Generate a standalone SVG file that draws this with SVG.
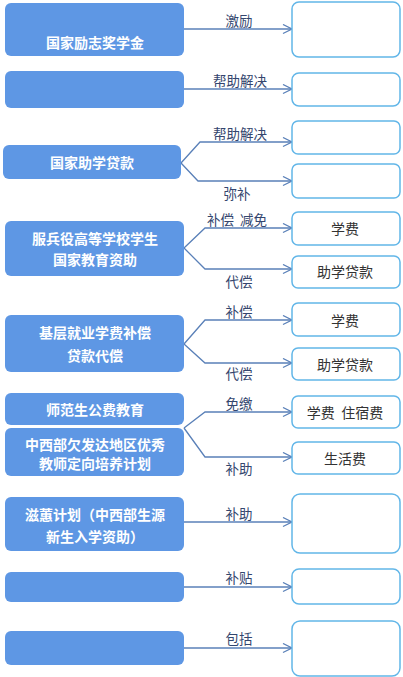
<svg xmlns="http://www.w3.org/2000/svg" width="403" height="677" viewBox="0 0 403 677">
<style>
.l{fill:#5e97e4}
.r{fill:#fff;stroke:#62b6e8;stroke-width:1.5}
.lt{font-family:"Noto Sans CJK SC",sans-serif;font-size:14px;font-weight:bold;fill:#fff;text-anchor:middle;dominant-baseline:central}
.rt{font-family:"Noto Sans CJK SC",sans-serif;font-size:14px;fill:#333;text-anchor:middle;dominant-baseline:central;white-space:pre}
.cl{font-family:"Noto Sans CJK SC",sans-serif;font-size:13.5px;fill:#34466e;text-anchor:middle;dominant-baseline:central;white-space:pre}
.c{fill:none;stroke:#5a80b8;stroke-width:1.3}
</style>
<defs>
<marker id="a" markerWidth="12" markerHeight="12" refX="10" refY="5" orient="auto" markerUnits="userSpaceOnUse">
<path d="M1,0.5 L10,5 L1,9.5" fill="none" stroke="#5a80b8" stroke-width="1.3"/>
</marker>
</defs>
<rect width="403" height="677" fill="#fff"/>
<g id="connectors">
<path class="c" marker-end="url(#a)" d="M184,29 H292"/>
<text class="cl" x="239" y="20">激励</text>
<path class="c" marker-end="url(#a)" d="M184,89 H292"/>
<text class="cl" x="240" y="80">帮助解决</text>
<path class="c" marker-end="url(#a)" d="M181,163 L200,142 H292"/>
<path class="c" marker-end="url(#a)" d="M181,163 L198,181 H292"/>
<text class="cl" x="240" y="133">帮助解决</text>
<text class="cl" x="237" y="193">弥补</text>
<path class="c" marker-end="url(#a)" d="M184,248 L205,228 H292"/>
<path class="c" marker-end="url(#a)" d="M184,248 L205,269 H292"/>
<text class="cl" x="237" y="219" xml:space="preserve">补偿  减免</text>
<text class="cl" x="239" y="281">代偿</text>
<path class="c" marker-end="url(#a)" d="M184,344 L205,320 H292"/>
<path class="c" marker-end="url(#a)" d="M184,344 L205,363 H292"/>
<text class="cl" x="239" y="311">补偿</text>
<text class="cl" x="239" y="373">代偿</text>
<path class="c" marker-end="url(#a)" d="M184,428 L205,412 H292"/>
<path class="c" marker-end="url(#a)" d="M184,428 L205,457 H292"/>
<text class="cl" x="239" y="403">免缴</text>
<text class="cl" x="239" y="468">补助</text>
<path class="c" marker-end="url(#a)" d="M184,522 H292"/>
<text class="cl" x="239" y="513">补助</text>
<path class="c" marker-end="url(#a)" d="M184,587 H292"/>
<text class="cl" x="239" y="577">补贴</text>
<path class="c" marker-end="url(#a)" d="M184,648 H292"/>
<text class="cl" x="239" y="638">包括</text>
</g>
<g id="n1"><rect class="l" x="5" y="3" width="179" height="53" rx="6"/><text class="lt" x="95" y="42">国家励志奖学金</text></g>
<g id="n2"><rect class="l" x="5" y="71" width="179" height="37" rx="6"/></g>
<g id="n3"><rect class="l" x="3" y="145" width="178" height="34" rx="6"/><text class="lt" x="92" y="162">国家助学贷款</text></g>
<g id="n4"><rect class="l" x="5" y="221" width="179" height="55" rx="6"/><text class="lt" x="95" y="238">服兵役高等学校学生</text><text class="lt" x="95" y="259">国家教育资助</text></g>
<g id="n5"><rect class="l" x="5" y="315" width="179" height="57" rx="6"/><text class="lt" x="95" y="332">基层就业学费补偿</text><text class="lt" x="95" y="355">贷款代偿</text></g>
<g id="n6"><rect class="l" x="5" y="393" width="179" height="32" rx="6"/><text class="lt" x="95" y="409">师范生公费教育</text></g>
<g id="n7"><rect class="l" x="5" y="428" width="179" height="48" rx="6"/><text class="lt" x="95" y="444">中西部欠发达地区优秀</text><text class="lt" x="95" y="463">教师定向培养计划</text></g>
<g id="n8"><rect class="l" x="5" y="497" width="179" height="54" rx="6"/><text class="lt" x="95" y="514">滋蕙计划（中西部生源</text><text class="lt" x="95" y="536">新生入学资助）</text></g>
<g id="n9"><rect class="l" x="5" y="572" width="179" height="30" rx="6"/></g>
<g id="n10"><rect class="l" x="5" y="631" width="179" height="34" rx="6"/></g>
<g id="r1"><rect class="r" x="292" y="2" width="108" height="55" rx="7"/></g>
<g id="r2"><rect class="r" x="292" y="73" width="108" height="33" rx="7"/></g>
<g id="r3"><rect class="r" x="292" y="121" width="108" height="33" rx="6"/></g>
<g id="r4"><rect class="r" x="292" y="164" width="108" height="34" rx="6"/></g>
<g id="r5"><rect class="r" x="292" y="212" width="108" height="33" rx="6"/><text class="rt" x="345" y="228">学费</text></g>
<g id="r6"><rect class="r" x="292" y="256" width="108" height="32" rx="6"/><text class="rt" x="345" y="271">助学贷款</text></g>
<g id="r7"><rect class="r" x="292" y="303" width="108" height="33" rx="6"/><text class="rt" x="345" y="320">学费</text></g>
<g id="r8"><rect class="r" x="292" y="348" width="108" height="32" rx="6"/><text class="rt" x="345" y="364">助学贷款</text></g>
<g id="r9"><rect class="r" x="292" y="396" width="108" height="32" rx="6"/><text class="rt" x="345" y="412" xml:space="preserve">学费  住宿费</text></g>
<g id="r10"><rect class="r" x="292" y="442" width="108" height="32" rx="6"/><text class="rt" x="345" y="458">生活费</text></g>
<g id="r11"><rect class="r" x="292" y="494" width="108" height="59" rx="8"/></g>
<g id="r12"><rect class="r" x="292" y="569" width="108" height="35" rx="7"/></g>
<g id="r13"><rect class="r" x="292" y="621" width="108" height="55" rx="8"/></g>
</svg>
